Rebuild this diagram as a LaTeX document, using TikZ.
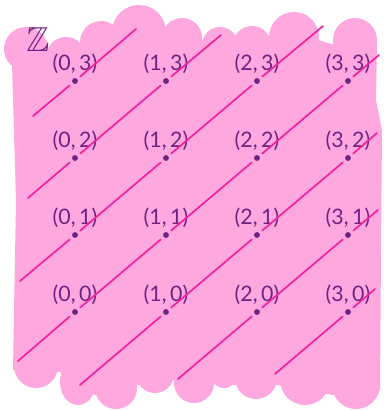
\documentclass[tikz,border=0pt]{standalone}
\usepackage{amssymb}
\usepackage{fontspec}
\setmainfont{Lato}
\usetikzlibrary{positioning}
\definecolor{blobpink}{HTML}{FFA8E0}
\definecolor{linemagenta}{HTML}{F0249E}
\definecolor{inkpurple}{HTML}{6E2382}

\begin{document}
\begin{tikzpicture}[
    x=0.75pt, y=-0.75pt,
    latpt/.style={circle, minimum size=10pt, inner sep=0pt, label distance=1.5pt},
    ptlabel/.style={font=\fontsize{16}{18}\selectfont, text=inkpurple, inner sep=0pt},
    diag/.style={linemagenta, line width=1.3pt, line cap=round},
    setlabel/.style={font=\fontsize{26}{30}\selectfont, text=inkpurple, inner sep=0pt}
]
\useasboundingbox (0,0) rectangle (383,410);

% Blob body
\fill[blobpink] (12,64) -- (20,55) -- (48,50) -- (83,45) -- (113,40) -- (163,30)
    -- (200,40) -- (237,45) -- (270,45) -- (318,40) -- (335,45) -- (377,40)
    -- (376,100) -- (382,130) -- (381,250) -- (380,390) -- (333,395) -- (277,385)
    -- (235,385) -- (213,383) -- (173,380) -- (137,385) -- (95,395) -- (60,372)
    -- (13,370) -- (16,200) -- cycle;

% Scallops along the top and bottom edges
\foreach \cx/\cy/\r in {26/49/22, 66/57/20, 101/42/21, 139/32/27, 182/38/20,
    220/45/18, 252/45/19, 294/37/25, 355/40/22,
    36/366/22, 116/388/21, 155/374/19, 194/383/20, 224/374/14,
    256/378/21, 305/380/25, 356/385/24}
    \fill[blobpink] (\cx,\cy) circle[radius=\r];
\fill[blobpink] (78,382) ellipse[x radius=18, y radius=23];

% Set name
\node[setlabel] (zset) at (38,40) {$\mathbb{Z}$};

% Lattice points with their labels
\foreach \i in {0,...,3}
    \foreach \j in {0,...,3}
        \node[latpt, label={[ptlabel]above:{(\i,\,\j)}}] (p\i\j) at ({75+91*\i},{312-77*\j}) {};

\foreach \i in {0,...,3}
    \foreach \j in {0,...,3}
        \fill[inkpurple] (p\i\j) circle[radius=2.2pt];

% Free ends of the diagonal lines
\coordinate (d1s) at (33,116);  \coordinate (d1e) at (136,29);
\coordinate (d2s) at (28,198);  \coordinate (d2e) at (221,35);
\coordinate (d3s) at (20,281);  \coordinate (d3e) at (323,26);
\coordinate (d4s) at (18,361);  \coordinate (d4e) at (379,55);
\coordinate (d5s) at (80,385);  \coordinate (d5e) at (377,133);
\coordinate (d6s) at (178,379); \coordinate (d6e) at (378,210);
\coordinate (d7s) at (275,374); \coordinate (d7e) at (375,289);

% Diagonal lines through the points
\draw[diag] (d1s) -- (p03) -- (d1e);
\draw[diag] (d2s) -- (p02) -- (p13) -- (d2e);
\draw[diag] (d3s) -- (p01) -- (p12) -- (p23) -- (d3e);
\draw[diag] (d4s) -- (p00) -- (p11) -- (p22) -- (p33) -- (d4e);
\draw[diag] (d5s) -- (p10) -- (p21) -- (p32) -- (d5e);
\draw[diag] (d6s) -- (p20) -- (p31) -- (d6e);
\draw[diag] (d7s) -- (p30) -- (d7e);

\end{tikzpicture}
\end{document}
